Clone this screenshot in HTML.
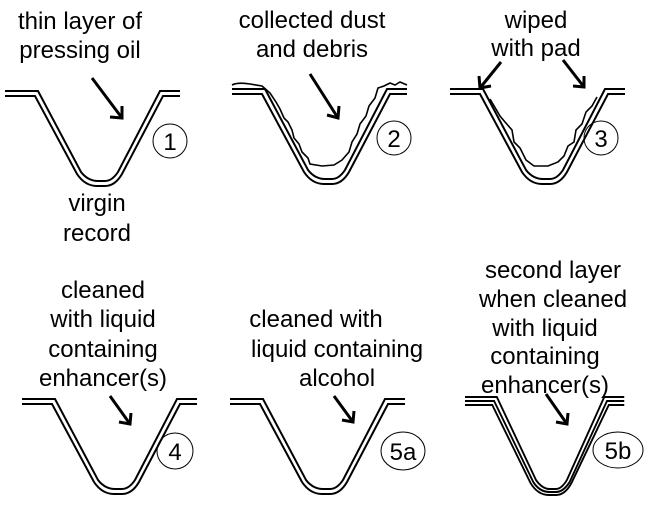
<!DOCTYPE html>
<html><head><style>
html,body{margin:0;padding:0;background:#fff;width:650px;height:522px;overflow:hidden}
svg{display:block}
text{font-family:"Liberation Sans",Arial,sans-serif;font-size:24px;fill:#000;text-anchor:middle}
.g path{fill:none;stroke:#000;stroke-width:2}
.d{fill:none;stroke:#000;stroke-width:1.6}
.a{stroke:#000;stroke-width:3;fill:none}
</style></head><body>
<svg width="650" height="522" viewBox="0 0 650 522">
<defs>
<g id="groove" class="g">
<path d="M0,0 H30 L72,78 Q80,90 92,90 H100 Q110,90 117,78 L158,0 H175"/>
<path d="M0,-5 H33 L76,76 Q83,85 93,85 H100 Q107,85 113,76 L155,-5 H175"/>
</g>
<g id="groove3" class="g">
<path d="M0,0 H30 L72,78 Q80,90 92,90 H100 Q110,90 117,78 L158,0 H175"/>
<path d="M0,-4 H32 L75,77 Q82,87 93,87 H100 Q108,87 115,77 L156,-4 H175"/>
<path d="M0,-8 H35 L78,75 Q85,84 93,84 H100 Q106,84 112,75 L153,-8 H175"/>
</g>
</defs>

<!-- 1 -->
<use href="#groove" x="5" y="96"/>
<text x="80" y="29">thin layer of</text>
<text x="80" y="58">pressing oil</text>
<text x="97" y="211">virgin</text>
<text x="97" y="241">record</text>
<path class="a" d="M92,78 L122,118"/><path class="a" d="M110,117 L122,118 L122,106"/>
<circle cx="170" cy="141" r="17" fill="none" stroke="#000" stroke-width="1"/>
<text x="170" y="150">1</text>

<!-- 2 -->
<use href="#groove" x="232" y="94"/>
<g transform="translate(232,94)">
<path class="d" d="M0,-9 Q6,-12 18,-10 L30,-8 L38,-1 L44,8 L48,15 L52,24 L56,28 L60,36 L62,44 L67,50 L70,58 L76,64 L78,70 L90,72 L102,71 L110,66 L117,58 L120,48 L125,40 L128,30 L134,22 L137,12 L143,4 L146,-6 L152,-8 L158,-11 L163,-9 L168,-12 L175,-9"/>
</g>
<text x="312" y="28">collected dust</text>
<text x="312" y="57">and debris</text>
<path class="a" d="M310,74 L338,118"/><path class="a" d="M327,115 L338,118 L339,106"/>
<circle cx="394" cy="138" r="17" fill="none" stroke="#000" stroke-width="1"/>
<text x="394" y="147">2</text>

<!-- 3 -->
<use href="#groove" x="450" y="94"/>
<g transform="translate(450,94)">
<path class="d" d="M40,5 L50,22 L55,28 L62,36 L64,48 L70,54 L76,66 L84,72 L98,72 L108,68 L114,62 L118,52 L124,48 L126,36 L132,30 L136,18 L142,12 L147,3"/>
</g>
<text x="536" y="28">wiped</text>
<text x="536" y="56">with pad</text>
<path class="a" d="M501,62 L480,88"/><path class="a" d="M479,76 L480,88 L491,86"/>
<path class="a" d="M563,60 L584,87"/><path class="a" d="M573,86 L584,87 L584,76"/>
<circle cx="601" cy="138" r="17" fill="none" stroke="#000" stroke-width="1"/>
<text x="601" y="147">3</text>

<!-- 4 -->
<use href="#groove" x="22" y="404"/>
<text x="103" y="298">cleaned</text>
<text x="103" y="327">with liquid</text>
<text x="103" y="357">containing</text>
<text x="103" y="386">enhancer(s)</text>
<path class="a" d="M110,396 L130,424"/><path class="a" d="M119,422 L130,424 L131,413"/>
<circle cx="175" cy="451" r="18" fill="none" stroke="#000" stroke-width="1"/>
<text x="175" y="460">4</text>

<!-- 5a -->
<use href="#groove" x="230" y="404"/>
<text x="316" y="327">cleaned with</text>
<text x="337" y="357">liquid containing</text>
<text x="337" y="386">alcohol</text>
<path class="a" d="M334,396 L353,422"/><path class="a" d="M342,420 L353,422 L354,411"/>
<ellipse cx="403" cy="451" rx="22" ry="19" fill="none" stroke="#000" stroke-width="1"/>
<text x="403" y="460">5a</text>

<!-- 5b -->
<g transform="translate(465,405) scale(0.91,1)"><use href="#groove3"/></g>
<text x="553" y="278">second layer</text>
<text x="553" y="307">when cleaned</text>
<text x="545" y="336">with liquid</text>
<text x="545" y="364">containing</text>
<text x="545" y="393">enhancer(s)</text>
<path class="a" d="M546,394 L567,424"/><path class="a" d="M556,422 L567,424 L568,413"/>
<ellipse cx="618" cy="450" rx="25" ry="18" fill="none" stroke="#000" stroke-width="1"/>
<text x="618" y="459">5b</text>
</svg></body></html>
